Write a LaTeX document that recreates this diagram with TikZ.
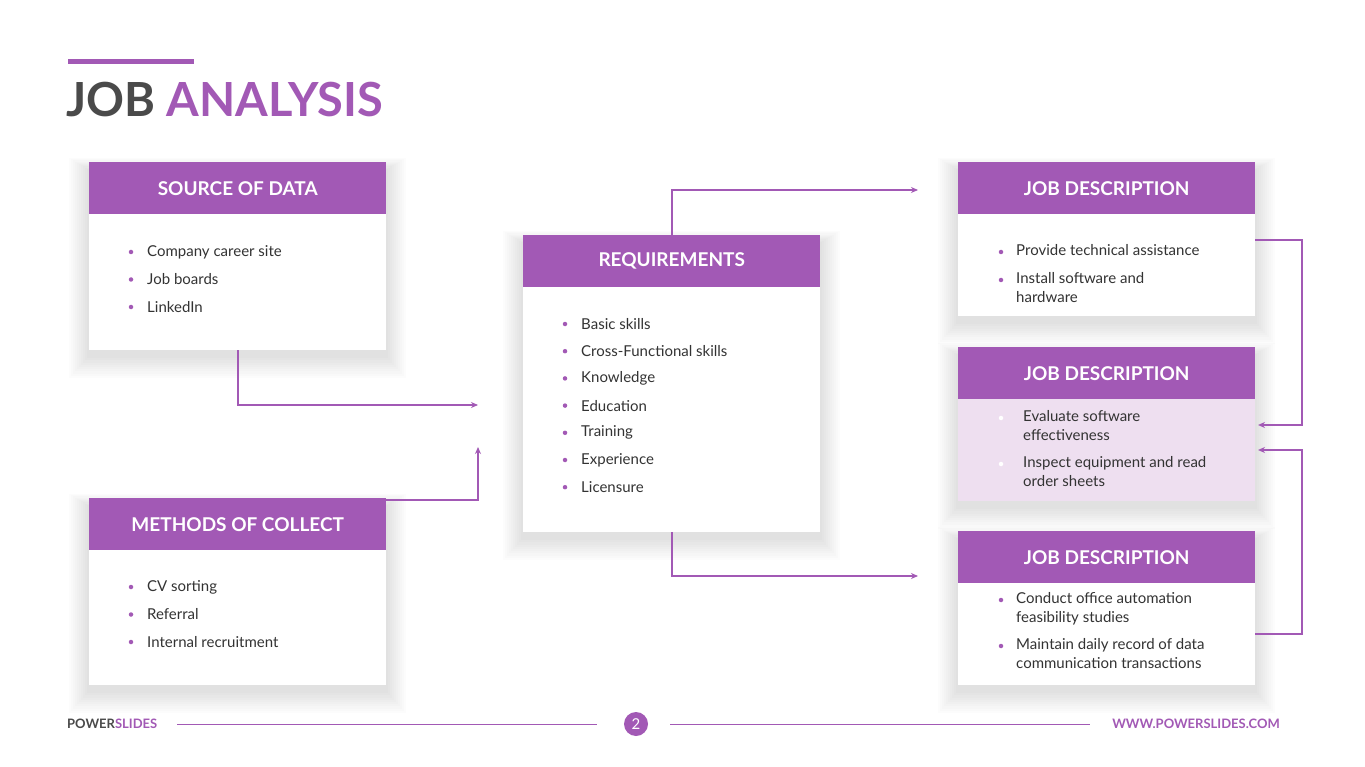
\documentclass[tikz,border=0pt]{standalone}
\usepackage{fontspec}
\setmainfont{Lato}
\usetikzlibrary{arrows.meta}
\definecolor{pur}{HTML}{A259B5}
\definecolor{gry}{HTML}{4A4A4A}
\definecolor{lpur}{HTML}{EEDFF0}
\definecolor{txt}{HTML}{333333}
\newcommand{\softshadow}[4]{\foreach \k in {1,...,10}{\fill[black,fill opacity=0.012] ({#1-2*\k},{#2-1.2*\k+8}) rectangle ({#3+2*\k},{#4+2.2*\k+6});}}
\begin{document}
\begin{tikzpicture}[x=1pt,y=-1pt,
  bodybox/.style={fill=white,anchor=north west,inner sep=0pt},
  headbox/.style={fill=pur,anchor=north west,inner sep=0pt,minimum width=297pt,minimum height=52pt,text=white,font=\bfseries\fontsize{19}{22}\selectfont},
  item/.style={anchor=north west,inner sep=0pt,text=txt,font=\fontsize{15}{19}\selectfont,align=left},
  dot/.style={circle,fill=pur,inner sep=0pt,minimum size=4.5pt},
  wdot/.style={circle,fill=white,inner sep=0pt,minimum size=4.5pt},
  conn/.style={draw=pur,line width=2pt},
  arr/.style={conn,-{Stealth[length=7pt,width=6pt]}}]
\useasboundingbox (0,0) rectangle (1365,767);
\fill[white] (0,0) rectangle (1365,767);
% shadows
\softshadow{89}{162}{386}{350}
\softshadow{89}{498}{386}{685}
\softshadow{523}{235}{820}{532}
\softshadow{958}{162}{1255}{316}
\softshadow{958}{347}{1255}{501}
\softshadow{958}{531}{1255}{685}
% title
\draw[pur,line width=5pt] (68,62) -- (194,62);
\node[anchor=base west,inner sep=0pt,font=\bfseries\fontsize{47}{52}\selectfont] (title) at (66,117) {\textcolor{gry}{JOB} \textcolor{pur}{ANALYSIS}};
% boxes
\node[bodybox,minimum width=297pt,minimum height=188pt] (sb) at (89,162) {};
\node[headbox] (sh) at (89,162) {SOURCE OF DATA};
\node[bodybox,minimum width=297pt,minimum height=187pt] (mb) at (89,498) {};
\node[headbox] (mh) at (89,498) {METHODS OF COLLECT};
\node[bodybox,minimum width=297pt,minimum height=297pt] (rb) at (523,235) {};
\node[headbox] (rh) at (523,235) {REQUIREMENTS};
\node[bodybox,minimum width=297pt,minimum height=154pt] (j1b) at (958,162) {};
\node[headbox] (j1h) at (958,162) {JOB DESCRIPTION};
\node[bodybox,minimum width=297pt,minimum height=154pt,fill=lpur] (j2b) at (958,347) {};
\node[headbox] (j2h) at (958,347) {JOB DESCRIPTION};
\node[bodybox,minimum width=297pt,minimum height=154pt] (j3b) at (958,531) {};
\node[headbox] (j3h) at (958,531) {JOB DESCRIPTION};
% lists
\foreach \t [count=\i] in {Company career site,Job boards,LinkedIn}
  {\node[dot] (sd\i) at (131,252+27.5*\i-27.5) {}; \node[anchor=west,inner sep=0pt,text=txt,font=\fontsize{15}{19}\selectfont] (st\i) at (147,252+27.5*\i-27.5) {\t};}
\foreach \t [count=\i] in {CV sorting,Referral,Internal recruitment}
  {\node[dot] (md\i) at (131,587+27.5*\i-27.5) {}; \node[anchor=west,inner sep=0pt,text=txt,font=\fontsize{15}{19}\selectfont] (mt\i) at (147,587+27.5*\i-27.5) {\t};}
\foreach \t [count=\i] in {Basic skills,Cross-Functional skills,Knowledge,Education,Training,Experience,Licensure}
  {\node[dot] (rd\i) at (565,324+27.2*\i-27.2) {}; \node[anchor=west,inner sep=0pt,text=txt,font=\fontsize{15}{19}\selectfont] (rt\i) at (581,324+27.2*\i-27.2) {\t};}
\node[dot] (a1) at (1001,252) {}; \node[item] (a1t) at (1016,244) {Provide technical assistance};
\node[dot] (a2) at (1001,280) {}; \node[item] (a2t) at (1016,272) {Install software and\\hardware};
\node[wdot] (b1) at (1001,418) {}; \node[item] (b1t) at (1023,410) {Evaluate software\\effectiveness};
\node[wdot] (b2) at (1001,464) {}; \node[item] (b2t) at (1023,456) {Inspect equipment and read\\order sheets};
\node[dot] (c1) at (1001,600) {}; \node[item] (c1t) at (1016,592) {Conduct office automation\\feasibility studies};
\node[dot] (c2) at (1001,646) {}; \node[item] (c2t) at (1016,638) {Maintain daily record of data\\communication transactions};
% connectors
\coordinate (e1) at (478,405); \coordinate (e2) at (478,447);
\coordinate (e3) at (918,190); \coordinate (e4) at (918,576);
\coordinate (e5) at (1258,425); \coordinate (e6) at (1258,450);
\draw[arr] (sb.south -| 238,0) |- (e1);
\draw[arr] (mb.north east) ++(0,2) -| (e2);
\draw[arr] (rh.north) |- (e3);
\draw[arr] (rb.south) |- (e4);
\draw[arr] (j1b.north east) ++(0,78) -- ++(47,0) |- (e5);
\draw[arr] (j3b.north east) ++(0,103) -- ++(47,0) |- (e6);
% footer
\node[anchor=west,inner sep=0pt,font=\bfseries\fontsize{13}{15}\selectfont] (brand) at (67,724) {\textcolor{gry}{POWER}\textcolor{pur}{SLIDES}};
\node[circle,fill=pur,minimum size=24pt,inner sep=0pt,text=white,font=\fontsize{15}{17}\selectfont] (pg) at (636,724) {2};
\node[anchor=east,inner sep=0pt,text=pur,font=\bfseries\fontsize{13}{15}\selectfont] (web) at (1280,724) {WWW.POWERSLIDES.COM};
\coordinate (l1) at (177,724); \coordinate (l2) at (597,724);
\coordinate (l3) at (670,724); \coordinate (l4) at (1090,724);
\draw[pur,line width=0.8pt] (l1) -- (l2);
\draw[pur,line width=0.8pt] (l3) -- (l4);
\end{tikzpicture}
\end{document}
